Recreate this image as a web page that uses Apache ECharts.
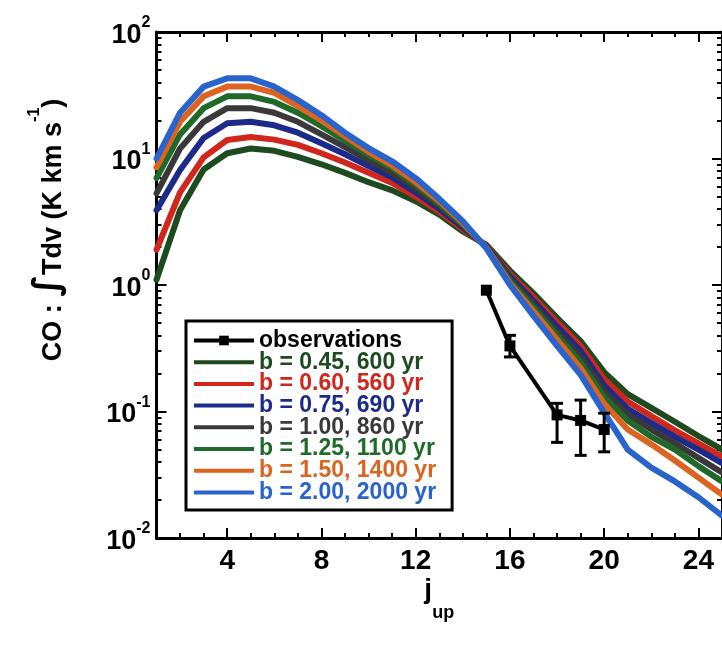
<!DOCTYPE html>
<html><head><meta charset="utf-8">
<script src="https://cdn.jsdelivr.net/npm/echarts@6/dist/echarts.min.js"></script>
<style>html,body{margin:0;padding:0;background:#fff}#c{width:722px;height:652px}</style>
</head><body><div id="c"></div>
<script>
// ---- data ----
const jUp = [1,2,3,4,5,6,7,8,9,10,11,12,13,14,15,16,17,18,19,20,21,22,23,24,25];
const b045 = [1.1,3.9,8.2,11,12,11.5,10.3,9.0,7.7,6.5,5.6,4.6,3.6,2.65,2.08,1.3,0.86,0.55,0.36,0.205,0.137,0.107,0.083,0.064,0.050];
const b060 = [1.9,5.4,10.2,14,14.8,14.1,12.8,11,9.3,7.7,6.4,5.0,3.8,2.75,2.05,1.22,0.80,0.51,0.33,0.18,0.12,0.092,0.071,0.056,0.044];
const b075 = [3.9,8.1,14.5,19,19.5,18.3,16,13.2,10.8,8.7,7.1,5.4,4.0,2.85,2.02,1.17,0.75,0.47,0.30,0.16,0.105,0.081,0.063,0.050,0.039];
const b100 = [5.3,12,19.5,25,25,23,19.5,15.5,12.3,9.7,7.7,5.8,4.2,2.95,2.0,1.12,0.70,0.43,0.27,0.145,0.095,0.072,0.056,0.043,0.033];
const b125 = [7,15.5,25,31,31,28,23,18,13.8,10.7,8.4,6.2,4.4,3.0,1.98,1.08,0.66,0.40,0.245,0.13,0.085,0.063,0.050,0.037,0.028];
const b150 = [8.5,19.5,31,37,37,33,26,20,15,11.3,8.8,6.5,4.6,3.1,1.97,1.03,0.62,0.37,0.22,0.115,0.072,0.055,0.041,0.030,0.022];
const b200 = [10,23,37,43,43,37,29,22,16,12.1,9.5,7.0,4.8,3.2,1.95,1.0,0.57,0.33,0.195,0.098,0.05,0.036,0.028,0.021,0.015];
const obsJ = [15,16,18,19,20];
const obsVal = [0.91,0.33,0.094,0.085,0.072];
const obsLow = [null,0.27,0.057,0.045,0.048];
const obsHigh = [null,0.40,0.116,0.123,0.097];
const seriesNames = ['b = 0.45, 600 yr','b = 0.60, 560 yr','b = 0.75, 690 yr','b = 1.00, 860 yr','b = 1.25, 1100 yr','b = 1.50, 1400 yr','b = 2.00, 2000 yr'];
const seriesColors = ['#1d4a1f','#d0261c','#1c2a8a','#3a3838','#1f6a2a','#dc6420','#2864cc'];
const xTickLabels = [4,8,12,16,20,24];
const yTickLabels = [0.01,0.1,1,10,100];
const yMinorTicks = [];
for (const d of [0.01,0.1,1,10]) for (let m=2;m<=9;m++) yMinorTicks.push(+(d*m).toPrecision(3));

const modelData = [b045,b060,b075,b100,b125,b150,b200];

const chart = echarts.init(document.getElementById('c'), null, {renderer:'canvas'});
const FONT = 'Liberation Sans, Arial, Helvetica, sans-serif';
const lineAx = {show:true, lineStyle:{color:'#000', width:3}};

function xAx(pos, major, extra){
  return Object.assign({
    type:'value', min:1, max:25, position:pos, interval:1,
    axisLine: major ? {show:false} : lineAx,
    axisTick: major ? {show:true, inside:true, length:10, customValues:xTickLabels, lineStyle:{color:'#000', width:2}}
                    : {show:true, inside:true, length:5, lineStyle:{color:'#000', width:2}},
    axisLabel:{show:false}, splitLine:{show:false}
  }, extra||{});
}
function yAx(pos, major, extra){
  return Object.assign({
    type:'log', logBase:10, min:0.01, max:100, position:pos,
    axisLine: major ? {show:false} : lineAx,
    axisTick: major ? {show:true, inside:true, length:10, customValues:yTickLabels, lineStyle:{color:'#000', width:2}}
                    : {show:true, inside:true, length:5, customValues:yMinorTicks, lineStyle:{color:'#000', width:2}},
    axisLabel:{show:false}, splitLine:{show:false}
  }, extra||{});
}

const series = [];
for (let k=0;k<7;k++){
  series.push({
    name: seriesNames[k], type:'line', data: jUp.map((j,i)=>[j, modelData[k][i]]),
    showSymbol:false, symbol:'none', smooth:false,
    lineStyle:{color:seriesColors[k], width:6, cap:'round', join:'round'},
    itemStyle:{color:seriesColors[k]}, z: 2+k
  });
}
series.push({
  name:'observations', type:'line', data: obsJ.map((j,i)=>[j, obsVal[i]]),
  symbol:'rect', symbolSize:11, lineStyle:{color:'#000', width:4}, itemStyle:{color:'#000'}, z:20
});
series.push({
  name:'errors', type:'custom', z:21,
  data: obsJ.map((j,i)=>[j, obsLow[i], obsHigh[i]]).filter(d=>d[1]!=null),
  encode:{x:0, y:[1,2]},
  renderItem(params, api){
    const x = api.value(0);
    const lo = api.coord([x, api.value(1)]);
    const hi = api.coord([x, api.value(2)]);
    const hw = 6, st = {stroke:'#000', lineWidth:3};
    return {type:'group', children:[
      {type:'line', shape:{x1:lo[0],y1:lo[1],x2:hi[0],y2:hi[1]}, style:st},
      {type:'line', shape:{x1:lo[0]-hw,y1:lo[1],x2:lo[0]+hw,y2:lo[1]}, style:st},
      {type:'line', shape:{x1:hi[0]-hw,y1:hi[1],x2:hi[0]+hw,y2:hi[1]}, style:st}
    ]};
  }
});

const barIcon = 'path://M0,0h0.01v0.01h-0.01zM0,4h60v4h-60zM59.99,11.99h0.01v0.01h-0.01z';
const legendData = [{name:'observations', textStyle:{color:'#000'}}].concat(
  seriesNames.map((n,k)=>({name:n, icon:barIcon, itemStyle:{color:seriesColors[k]}, textStyle:{color:seriesColors[k]}})));

chart.setOption({
  animation:false,
  backgroundColor:'#ffffff',
  grid:{left:156.5, right:-3.3, top:32, bottom:114, containLabel:false},
  xAxis:[
    xAx('bottom', false, {
      name:'{j|j}{s|up}', nameLocation:'middle', nameGap:38,
      nameTextStyle:{rich:{
        j:{fontFamily:FONT, fontWeight:'bold', fontSize:28, lineHeight:46, verticalAlign:'top', color:'#000'},
        s:{fontFamily:FONT, fontWeight:'bold', fontSize:18, lineHeight:46, verticalAlign:'bottom', color:'#000'}
      }}
    }),
    xAx('bottom', true, {axisLabel:{show:true, customValues:xTickLabels, margin:9,
      fontFamily:FONT, fontWeight:'bold', fontSize:28, color:'#000'}}),
    xAx('top', false),
    xAx('top', true)
  ],
  yAxis:[
    yAx('left', false),
    yAx('left', true, {axisLabel:{show:true, customValues:yTickLabels, margin:6,
      formatter:v=>{const e=Math.round(Math.log10(v)); return '{b|10}{s|'+e+'}';},
      rich:{
        b:{fontFamily:FONT, fontWeight:'bold', fontSize:27, color:'#000', lineHeight:34, verticalAlign:'bottom'},
        s:{fontFamily:FONT, fontWeight:'bold', fontSize:16, color:'#000', lineHeight:34, verticalAlign:'top'}
      }}}),
    yAx('right', false),
    yAx('right', true)
  ],
  legend:{
    data: legendData, orient:'vertical', left:186, top:321,
    itemWidth:60, itemHeight:12, itemGap:-1.3,
    lineStyle:{width:4},
    backgroundColor:'#fff', borderColor:'#000', borderWidth:3,
    padding:[8,16,6,6], itemTextGap:4,
    textStyle:{fontFamily:FONT, fontWeight:'bold', fontSize:23},
    selectedMode:false
  },
  graphic:[{
    type:'text', x:47, y:230, rotation:Math.PI/2,
    style:{
      text:'{a|CO : }{i|\u222B}{a|Tdv (K km s}{s|-1}{a|)}',
      align:'center', verticalAlign:'middle',
      rich:{
        a:{fontFamily:FONT, fontWeight:'bold', fontSize:27, fill:'#000', lineHeight:40, verticalAlign:'bottom'},
        i:{fontFamily:'DejaVu Sans, sans-serif', fontWeight:'bold', fontSize:36, fill:'#000', lineHeight:40, verticalAlign:'bottom'},
        s:{fontFamily:FONT, fontWeight:'bold', fontSize:16, fill:'#000', lineHeight:40, verticalAlign:'top'}
      }
    }
  }],
  series: series
});
</script></body></html>
